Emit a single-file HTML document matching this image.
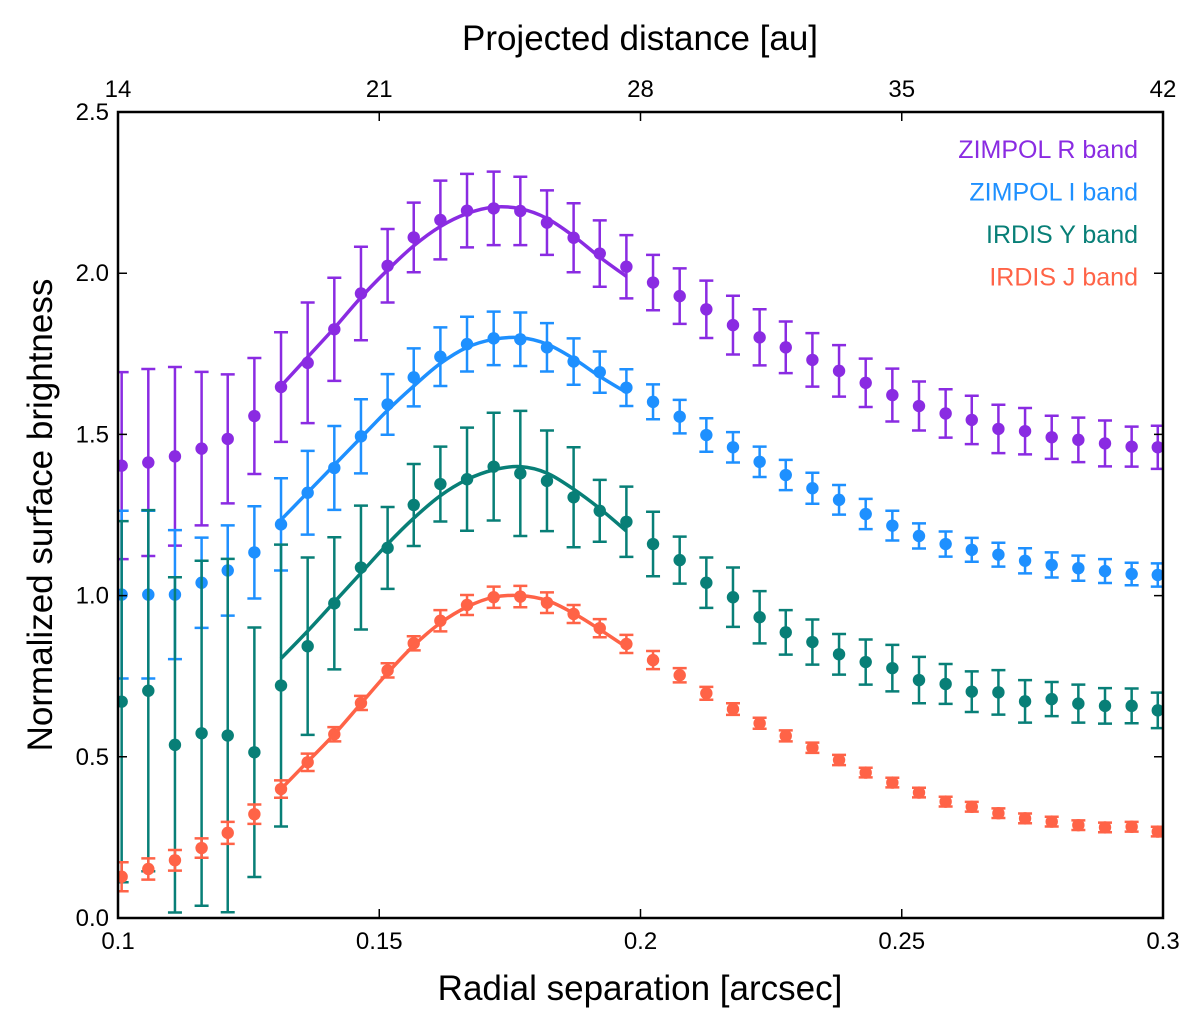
<!DOCTYPE html>
<html><head><meta charset="utf-8"><style>
html,body{margin:0;padding:0;background:#fff;}
svg text{font-family:"Liberation Sans",sans-serif;}
</style></head><body>
<svg id="chart" xmlns="http://www.w3.org/2000/svg" width="1200" height="1027" viewBox="0 0 1200 1027"></svg>
<script>
const xVals=[0.1007,0.1058,0.1109,0.1160,0.1210,0.1261,0.1312,0.1363,0.1414,0.1465,0.1516,0.1566,0.1617,0.1668,0.1719,0.1770,0.1821,0.1872,0.1922,0.1973,0.2024,0.2075,0.2126,0.2177,0.2228,0.2278,0.2329,0.2380,0.2431,0.2482,0.2533,0.2584,0.2634,0.2685,0.2736,0.2787,0.2838,0.2889,0.2940,0.2990];
const rVals=[1.403,1.413,1.432,1.456,1.486,1.557,1.647,1.722,1.826,1.937,2.023,2.111,2.165,2.194,2.201,2.193,2.157,2.110,2.061,2.020,1.971,1.929,1.888,1.839,1.801,1.770,1.731,1.697,1.660,1.622,1.588,1.565,1.545,1.517,1.510,1.491,1.483,1.472,1.462,1.460];
const rErr=[0.29,0.29,0.277,0.238,0.2,0.18,0.17,0.187,0.16,0.145,0.114,0.108,0.122,0.114,0.114,0.106,0.1,0.107,0.103,0.098,0.086,0.086,0.089,0.091,0.087,0.08,0.083,0.08,0.075,0.082,0.076,0.075,0.075,0.075,0.072,0.067,0.069,0.071,0.062,0.067];
const iVals=[1.003,1.003,1.003,1.040,1.078,1.134,1.221,1.319,1.396,1.494,1.593,1.677,1.741,1.780,1.798,1.795,1.770,1.726,1.693,1.645,1.601,1.555,1.498,1.460,1.415,1.374,1.333,1.297,1.253,1.217,1.185,1.160,1.142,1.127,1.108,1.095,1.085,1.076,1.067,1.064];
const iErr=[0.26,0.26,0.2,0.14,0.14,0.143,0.143,0.13,0.13,0.115,0.094,0.09,0.091,0.085,0.083,0.083,0.075,0.072,0.064,0.057,0.054,0.052,0.052,0.047,0.047,0.047,0.048,0.046,0.047,0.046,0.039,0.039,0.037,0.037,0.039,0.039,0.039,0.037,0.035,0.036];
const yVals=[0.671,0.705,0.537,0.573,0.566,0.514,0.721,0.843,0.976,1.087,1.148,1.281,1.346,1.361,1.400,1.379,1.356,1.305,1.263,1.229,1.160,1.110,1.040,0.995,0.933,0.886,0.856,0.818,0.794,0.775,0.738,0.726,0.702,0.700,0.672,0.679,0.665,0.658,0.658,0.644];
const yErr=[0.56,0.56,0.52,0.535,0.548,0.387,0.437,0.275,0.205,0.192,0.127,0.127,0.116,0.16,0.167,0.194,0.156,0.155,0.096,0.109,0.1,0.073,0.078,0.092,0.081,0.069,0.07,0.063,0.07,0.072,0.072,0.062,0.063,0.069,0.066,0.053,0.059,0.055,0.054,0.055];
const jVals=[0.128,0.152,0.179,0.217,0.264,0.322,0.400,0.483,0.570,0.667,0.768,0.852,0.922,0.971,0.995,0.997,0.978,0.943,0.899,0.850,0.800,0.753,0.697,0.648,0.604,0.565,0.528,0.490,0.451,0.420,0.389,0.361,0.345,0.325,0.309,0.299,0.288,0.281,0.283,0.268];
const jErr=[0.045,0.033,0.032,0.03,0.034,0.03,0.027,0.027,0.022,0.022,0.022,0.022,0.033,0.031,0.033,0.033,0.032,0.028,0.028,0.028,0.028,0.022,0.02,0.018,0.017,0.017,0.016,0.016,0.015,0.015,0.015,0.015,0.015,0.015,0.015,0.015,0.015,0.015,0.015,0.015];
const fitX=[0.1312,0.1363,0.1414,0.1465,0.1516,0.1566,0.1617,0.1668,0.1719,0.1770,0.1821,0.1872,0.1922,0.1973];
const rFit=[1.65,1.74,1.83,1.925,2.01,2.085,2.145,2.185,2.205,2.2,2.17,2.115,2.05,1.99];
const iFit=[1.235,1.32,1.405,1.49,1.575,1.65,1.72,1.77,1.795,1.8,1.78,1.735,1.68,1.63];
const yFit=[0.805,0.89,0.98,1.07,1.16,1.24,1.31,1.36,1.39,1.4,1.38,1.33,1.27,1.2];
const jFit=[0.40,0.485,0.57,0.665,0.76,0.845,0.915,0.965,0.995,1.0,0.985,0.945,0.895,0.84];
const xTicks=[0.1,0.15,0.2,0.25,0.3];
const xTickLabels=["0.1","0.15","0.2","0.25","0.3"];
const yTicks=[0,0.5,1,1.5,2,2.5];
const yTickLabels=["0.0","0.5","1.0","1.5","2.0","2.5"];
const auTicks=[14,21,28,35,42];
const legendLabels=["ZIMPOL R band","ZIMPOL I band","IRDIS Y band","IRDIS J band"];

const L=118,R=1163,T=112,B=918;
const sx=v=>L+(v-0.1)/0.2*(R-L);
const sy=v=>B-(v/2.5)*(B-T);
const sau=v=>L+(v-14)/28*(R-L);
const NS="http://www.w3.org/2000/svg";
const svg=document.getElementById('chart');
function mk(tag,attrs,parent){const e=document.createElementNS(NS,tag);for(const k in attrs)e.setAttribute(k,attrs[k]);(parent||svg).appendChild(e);return e;}

const series=[
 {name:'zimpol-r',vals:rVals,err:rErr,fit:rFit,color:'#8a2be2'},
 {name:'zimpol-i',vals:iVals,err:iErr,fit:iFit,color:'#1e90ff'},
 {name:'irdis-y',vals:yVals,err:yErr,fit:yFit,color:'#087f77'},
 {name:'irdis-j',vals:jVals,err:jErr,fit:jFit,color:'#ff6347'}];

const clip=mk('clipPath',{id:'pc'});mk('rect',{x:L,y:T,width:R-L,height:B-T},clip);
const plot=mk('g',{'clip-path':'url(#pc)'});



series.forEach(s=>{
  const g=mk('g',{},plot);
  
  
  s.vals.forEach((v,i)=>{
    const x=sx(xVals[i]),e=s.err[i];
    const eb=mk('path',{d:`M${x},${sy(v-e)}V${sy(v+e)}M${x-7},${sy(v-e)}h14M${x-7},${sy(v+e)}h14`,stroke:s.color,'stroke-width':2.5,fill:'none'},g);
    
    
  });
  s.vals.forEach((v,i)=>{
    const c=mk('circle',{cx:sx(xVals[i]),cy:sy(v),r:6.2,fill:s.color},g);
    
    
  });
  const pts=fitX.map((x,i)=>[sx(x),sy(s.fit[i])]);
  let d=`M${pts[0][0]},${pts[0][1]}`;
  for(let i=0;i<pts.length-1;i++){
    const p0=pts[Math.max(0,i-1)],p1=pts[i],p2=pts[i+1],p3=pts[Math.min(pts.length-1,i+2)];
    d+=`C${p1[0]+(p2[0]-p0[0])/6},${p1[1]+(p2[1]-p0[1])/6} ${p2[0]-(p3[0]-p1[0])/6},${p2[1]-(p3[1]-p1[1])/6} ${p2[0]},${p2[1]}`;
  }
  const f=mk('path',{d:d,stroke:s.color,'stroke-width':3.5,fill:'none'},g);
  
  
});

const frame=mk('rect',{x:L,y:T,width:R-L,height:B-T,fill:'none',stroke:'#000','stroke-width':2.5});



xTicks.forEach((t,i)=>{
  const x=sx(t);
  mk('path',{d:`M${x},${B}v-9`,stroke:'#000','stroke-width':1.5});
  const lb=mk('text',{x:x,y:B+31,'text-anchor':'middle','font-size':24});
  lb.textContent=xTickLabels[i];
  
  
});
auTicks.forEach(t=>{
  const x=sau(t);
  mk('path',{d:`M${x},${T}v9`,stroke:'#000','stroke-width':1.5});
  const lb=mk('text',{x:x,y:T-15,'text-anchor':'middle','font-size':24});
  lb.textContent=String(t);
  
  
});
yTicks.forEach((t,i)=>{
  const y=sy(t);
  mk('path',{d:`M${L},${y}h9M${R},${y}h-9`,stroke:'#000','stroke-width':1.5});
  const lb=mk('text',{x:L-9,y:y+8,'text-anchor':'end','font-size':24});
  lb.textContent=yTickLabels[i];
  
  
});
legendLabels.forEach((t,i)=>{
  const lb=mk('text',{x:1138,y:158+i*42.5,'text-anchor':'end','font-size':25,fill:series[i].color});
  lb.textContent=t;
  
  
});
</script>
<svg style="position:absolute;left:0;top:0" width="1200" height="1027">
<text x="640" y="1000" text-anchor="middle" font-size="35" style="font-family:'Liberation Sans',sans-serif">Radial separation [arcsec]</text>
<text x="640" y="50" text-anchor="middle" font-size="35" style="font-family:'Liberation Sans',sans-serif">Projected distance [au]</text>
<text transform="translate(52,515) rotate(-90)" text-anchor="middle" font-size="35" style="font-family:'Liberation Sans',sans-serif">Normalized surface brightness</text>
</svg>
</body></html>
